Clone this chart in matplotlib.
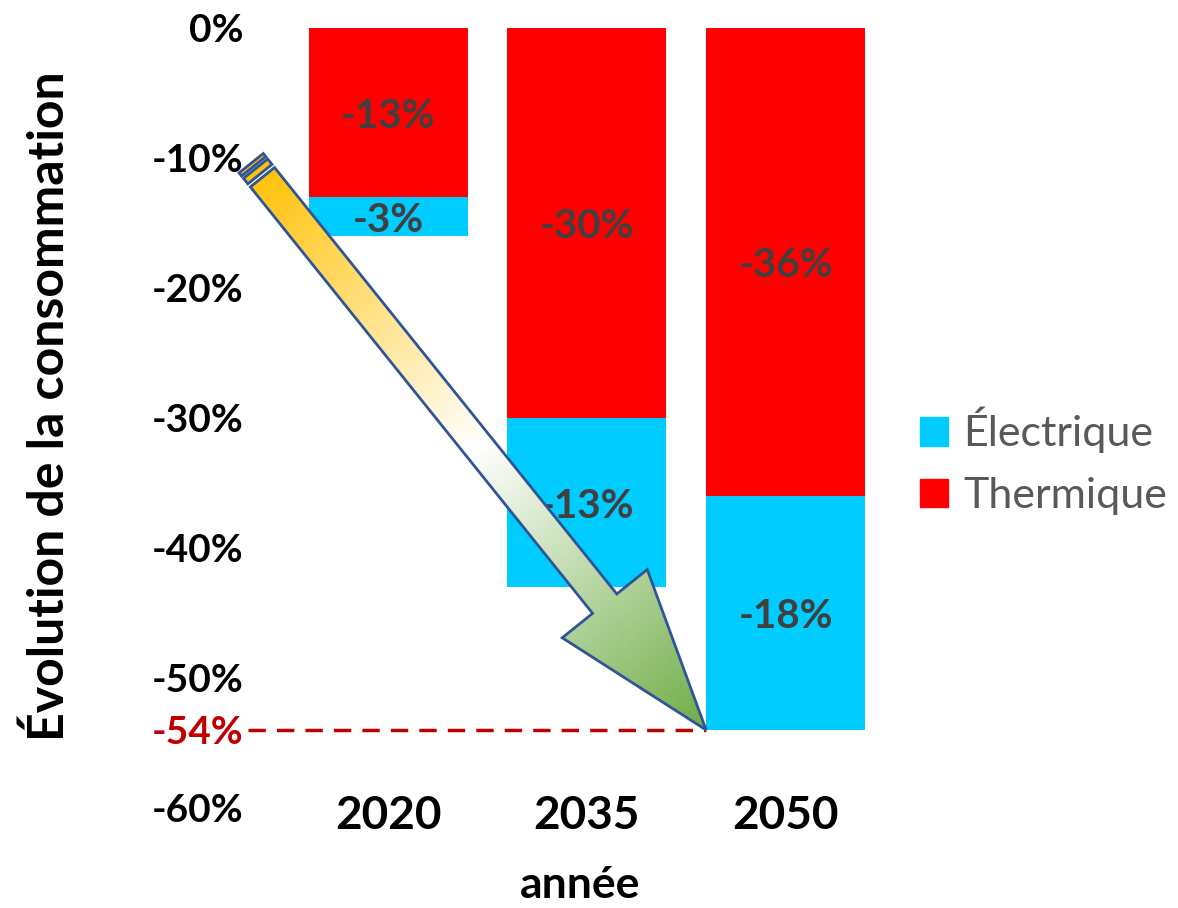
import numpy as np
import matplotlib
matplotlib.use('Agg')
import matplotlib.pyplot as plt
import matplotlib.transforms as mtransforms
from matplotlib.path import Path
from matplotlib.patches import PathPatch, Patch
from matplotlib.colors import LinearSegmentedColormap

# ---------------- data ----------------
years = ['2020', '2035', '2050']
thermique = [-13, -30, -36]
electrique = [-3, -13, -18]
ytick_values = [0, -10, -20, -30, -40, -50, -60]
highlight_value = -54
series_names = ['Électrique', 'Thermique']

# ---------------- style ----------------
FONT = 'Lato'
plt.rcParams['font.family'] = [FONT, 'DejaVu Sans']
C_THERM = '#FF0000'
C_ELEC = '#00CCFF'
C_LABEL = '#404040'
C_RED = '#C00000'

W, H = 1178, 908
fig = plt.figure(figsize=(W / 100, H / 100), dpi=100)
ax = fig.add_axes([248 / W, 1 - 808 / H, (875 - 248) / W, (808 - 28) / H])

x = np.arange(len(years))
bw = 0.8
ax.bar(x, thermique, width=bw, color=C_THERM, zorder=2)
ax.bar(x, electrique, bottom=thermique, width=bw, color=C_ELEC, zorder=2)

ax.set_xlim(-0.706, 2.45)
ax.set_ylim(-60, 0)

# segment labels
for i in range(len(years)):
    ax.text(x[i], thermique[i] / 2, f"{thermique[i]}%", ha='center', va='center_baseline',
            fontsize=29, fontweight='bold', color=C_LABEL, zorder=3)
    ax.text(x[i], thermique[i] + electrique[i] / 2, f"{electrique[i]}%", ha='center',
            va='center_baseline', fontsize=29, fontweight='bold', color=C_LABEL, zorder=3)

# axes ticks
yt = ytick_values + [highlight_value]
ax.set_yticks(yt)
ax.set_yticklabels([f"{v}%" for v in yt])
for lab, v in zip(ax.get_yticklabels(), yt):
    lab.set_fontweight('bold')
    lab.set_fontsize(28)
    if v == highlight_value:
        lab.set_color(C_RED)
        lab.set_transform(lab.get_transform() +
                          mtransforms.ScaledTranslation(0, -5 / 100, fig.dpi_scale_trans))
ax.tick_params(axis='y', length=0, pad=3)

ax.set_xticks(x)
ax.set_xticklabels(years, fontsize=33, fontweight='bold')
ax.tick_params(axis='x', length=0, pad=6)
for lab in ax.get_xticklabels():
    lab.set_va('center')

for s in ax.spines.values():
    s.set_visible(False)

ax.set_ylabel('Évolution de la consommation', fontsize=36, fontweight='bold')
ax.yaxis.set_label_coords(-0.281, 0.515)
ax.set_xlabel('année', fontsize=32, fontweight='bold', va='center')
ax.xaxis.set_label_coords(0.53, -0.099)

# dashed line to total of 2050
total_last = thermique[-1] + electrique[-1]
tip_x = x[-1] - bw / 2
ax.plot([ax.get_xlim()[0], tip_x], [total_last, total_last], color=C_RED, lw=2.5,
        dashes=(5, 3.2), zorder=4, solid_capstyle='butt')

# legend
handles = [Patch(color=C_ELEC), Patch(color=C_THERM)]
leg = fig.legend(handles, series_names, loc='center left',
                 bbox_to_anchor=(920 / W, 1 - 461 / H), frameon=False,
                 fontsize=31, handlelength=0.65, handleheight=0.65,
                 handletextpad=0.35, labelspacing=0.55, borderpad=0, borderaxespad=0)
for t in leg.get_texts():
    t.set_color('#595959')

# ---------------- striped gradient arrow ----------------
ARROW_TAIL = (-0.69, -10.4)
tail_d = ax.transData.transform(ARROW_TAIL)
tip_d = ax.transData.transform((tip_x, total_last))
vec = tip_d - tail_d
L = np.hypot(*vec)
u = vec / L
n = np.array([-u[1], u[0]])
w, hw, hl = 31, 109, 162

def pt(s, t):
    return tail_d + u * s + n * t

verts, codes = [], []
def add_poly(pts):
    verts.extend(pts + [pts[0]])
    codes.extend([Path.MOVETO] + [Path.LINETO] * (len(pts) - 1) + [Path.CLOSEPOLY])

add_poly([pt(0, -w / 2), pt(4, -w / 2), pt(4, w / 2), pt(0, w / 2)])
add_poly([pt(7, -w / 2), pt(14, -w / 2), pt(14, w / 2), pt(7, w / 2)])
add_poly([pt(18, -w / 2), pt(L - hl, -w / 2), pt(L - hl, -hw / 2), pt(L, 0),
          pt(L - hl, hw / 2), pt(L - hl, w / 2), pt(18, w / 2)])
path = Path(np.array(verts), codes)

ov = fig.add_axes([0, 0, 1, 1], zorder=5)
ov.set_xlim(0, W)
ov.set_ylim(0, H)
ov.axis('off')
ov.patch.set_alpha(0)

xs = np.linspace(0, W, 600)
ys = np.linspace(0, H, 460)
XX, YY = np.meshgrid(xs, ys)
proj = ((XX - tail_d[0]) * u[0] + (YY - tail_d[1]) * u[1]) / L
cmap = LinearSegmentedColormap.from_list('g', [(0, '#FFC000'), (0.5, '#FFFFFF'),
                                               (1, '#70AD47')])
im = ov.imshow(proj, extent=(0, W, 0, H), origin='lower', cmap=cmap, vmin=0, vmax=1,
               aspect='auto', interpolation='bilinear')
clip = PathPatch(path, facecolor='none', edgecolor='none', transform=ov.transData)
ov.add_patch(clip)
im.set_clip_path(clip)
ov.add_patch(PathPatch(path, facecolor='none', edgecolor='#2F5597', lw=2,
                       joinstyle='miter'))

fig.savefig('out.png', dpi=100)
